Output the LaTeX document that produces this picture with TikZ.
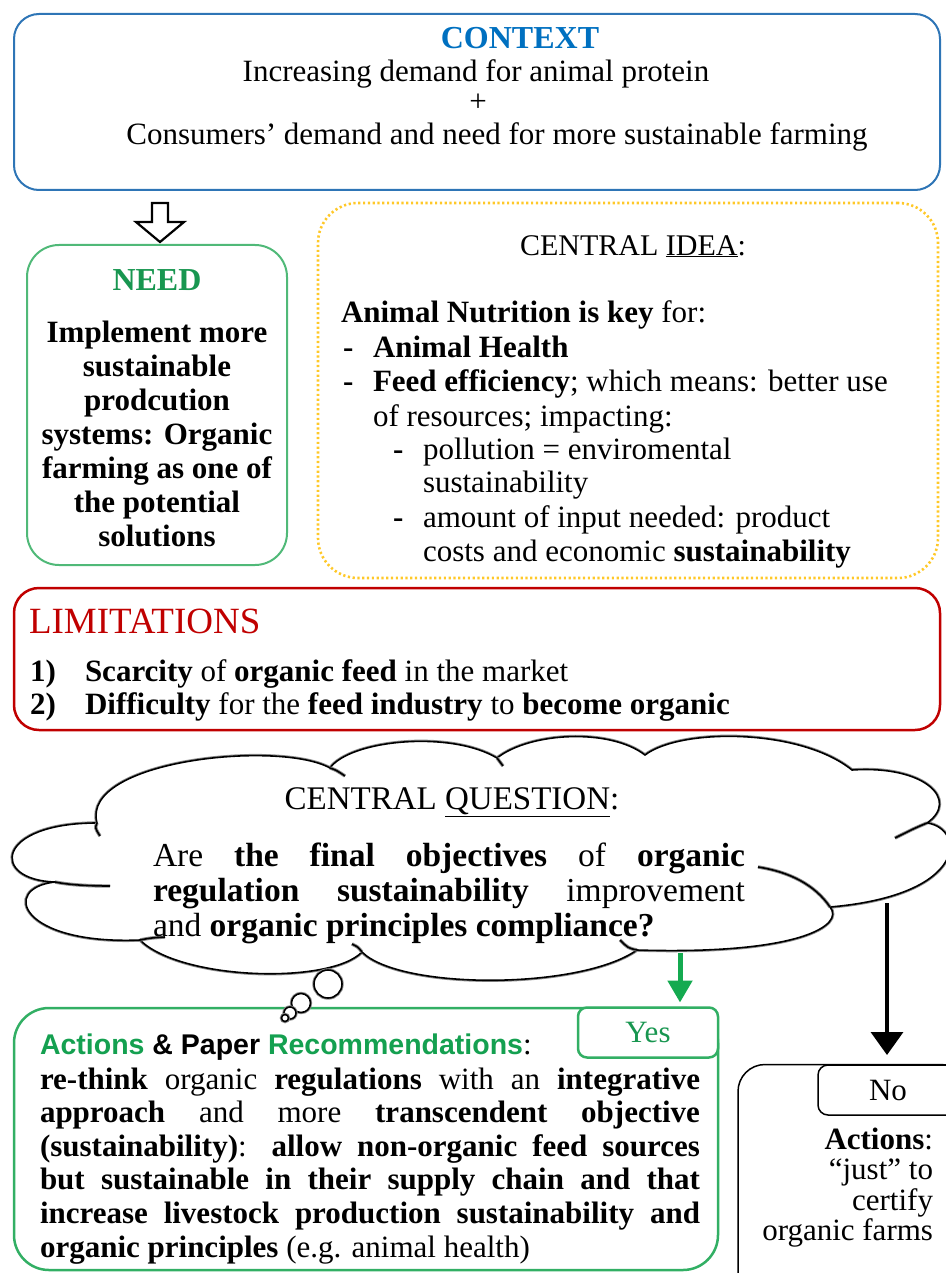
\documentclass[tikz,border=0pt]{standalone}
\usepackage{fontspec}
\setmainfont{Liberation Serif}
\setsansfont{Liberation Sans}
\usetikzlibrary{arrows.meta}

\definecolor{ctxblue}{RGB}{46,117,182}
\definecolor{ctxtitle}{RGB}{0,112,192}
\definecolor{needline}{RGB}{80,185,120}
\definecolor{needtext}{RGB}{24,150,80}
\definecolor{ideagold}{RGB}{255,200,40}
\definecolor{limred}{RGB}{192,0,0}
\definecolor{actgreen}{RGB}{50,175,100}
\definecolor{acttext}{RGB}{20,160,80}
\definecolor{arrowgreen}{RGB}{20,170,80}

\newcommand\fsBody{\fontsize{31}{34}\selectfont}
\newcommand\fsTitle[1]{\fontsize{#1}{#1}\selectfont}
\newcommand\jline[1]{\makebox[\linewidth][s]{#1}}

\begin{document}
\begin{tikzpicture}[x=1pt,y=-1pt,
  txt/.style={inner sep=0pt, outer sep=0pt, font=\fsBody},
  panel/.style={rectangle, inner sep=0pt, outer sep=0pt},
  cloudline/.style={draw=black, line width=1.6pt, preaction={draw=black!45, line width=3.4pt}},
]
\useasboundingbox (0,0) rectangle (945,1273);

% ---------- context ----------
\node[panel, draw=ctxblue, line width=2pt, rounded corners=25pt,
      minimum width=926pt, minimum height=176pt] (context) at (477,102) {};
\node[txt, anchor=base, font=\fsTitle{32}\bfseries, text=ctxtitle] (ctxtitle) at (520,49) {CONTEXT};
\node[txt, anchor=base] (ctx1) at (476,82) {Increasing demand for animal protein};
\node[txt, anchor=base] (ctx2) at (478,112) {+};
\node[txt, anchor=base] (ctx3) at (497,145) {Consumers’ demand and need for more sustainable farming};

% hollow block arrow from context to need
\draw[line width=2.2pt, fill=white, line join=miter]
  (152,203) -- (168,203) -- (168,222) -- (184,222) -- (160,242) -- (136,222) -- (152,222) -- cycle;

% ---------- need ----------
\node[panel, draw=needline, line width=2pt, rounded corners=32pt,
      minimum width=260pt, minimum height=320pt] (need) at (157,405) {};
\node[txt, anchor=base, font=\fsTitle{32}\bfseries, text=needtext] (needtitle) at (157,290) {NEED};
\node[txt, anchor=base] (needtxt) at (157,342) {\parbox[t]{258pt}{\centering\fsBody\bfseries
  Implement more\\sustainable\\prodcution\\systems: Organic\\farming as one of\\the potential\\solutions}};

% ---------- central idea ----------
\node[panel, draw=ideagold, line width=2.6pt, dash pattern=on 2.2pt off 2.6pt, rounded corners=40pt,
      minimum width=620pt, minimum height=375pt] (idea) at (628,390.5) {};
\node[txt, anchor=base, font=\fsTitle{30}] (ideatitle) at (633,255) {CENTRAL \underline{IDEA}:};
\node[txt, anchor=base west] (i1) at (341,322) {\textbf{Animal Nutrition is key} for:};
\node[txt, anchor=base west] (i2d) at (343,357) {\textbf{-}};
\node[txt, anchor=base west] (i2) at (373,357) {\textbf{Animal Health}};
\node[txt, anchor=base west] (i3d) at (343,391) {\textbf{-}};
\node[txt, anchor=base west] (i3) at (373,391) {\textbf{Feed efficiency}; which means: better use};
\node[txt, anchor=base west] (i4) at (373,426) {of resources; impacting:};
\node[txt, anchor=base west] (i5d) at (393,459) {\textbf{-}};
\node[txt, anchor=base west] (i5) at (423,459) {pollution = enviromental};
\node[txt, anchor=base west] (i6) at (423,492) {sustainability};
\node[txt, anchor=base west] (i7d) at (393,527) {\textbf{-}};
\node[txt, anchor=base west] (i7) at (423,527) {amount of input needed: product};
\node[txt, anchor=base west] (i8) at (423,561) {costs and economic \textbf{sustainability}};

% ---------- limitations ----------
\node[panel, draw=limred, line width=2.5pt, rounded corners=25pt,
      minimum width=926pt, minimum height=142pt] (limits) at (477,659) {};
\node[txt, anchor=base west, font=\fsTitle{37}, text=limred] (limtitle) at (29,633) {LIMITATIONS};
\node[txt, anchor=base west] (l1n) at (30,681) {\textbf{1)}};
\node[txt, anchor=base west] (l1) at (85,681) {\textbf{Scarcity} of \textbf{organic feed} in the market};
\node[txt, anchor=base west] (l2n) at (30,714) {\textbf{2)}};
\node[txt, anchor=base west] (l2) at (85,714) {\textbf{Difficulty} for the \textbf{feed industry} to \textbf{become organic}};

% ---------- central question cloud ----------
\path[fill=white, cloudline] (97,823)
  .. controls (80,760) and (280,740) .. (330,768)
  .. controls (350,740) and (450,730) .. (497,758)
  .. controls (530,732) and (610,728) .. (645,755)
  .. controls (680,728) and (800,728) .. (852,770)
  .. controls (925,765) and (960,800) .. (927,823)
  .. controls (965,828) and (970,895) .. (830,907)
  .. controls (845,925) and (800,955) .. (637,950)
  .. controls (580,990) and (400,990) .. (362,952)
  .. controls (330,985) and (180,980) .. (140,940)
  .. controls (20,945) and (0,888) .. (55,882)
  .. controls (-10,880) and (-5,823) .. (97,823) -- cycle;
% overlapping ends of the bumps
\draw[cloudline] (97,823) .. controls (95,828) .. (100,836);
\draw[cloudline] (55,882) .. controls (70,885) and (90,886) .. (110,886);
\draw[cloudline] (140,940) .. controls (150,938) .. (165,937);
\draw[cloudline] (330,768) .. controls (336,770) .. (345,776);
\draw[cloudline] (497,758) .. controls (500,762) .. (503,766);
\draw[cloudline] (927,823) .. controls (915,828) .. (895,838);
\draw[cloudline] (830,907) .. controls (815,885) and (790,872) .. (758,867);
\draw[cloudline] (637,950) .. controls (628,948) .. (620,940);
\draw[cloudline] (362,952) .. controls (358,947) .. (352,944);

\node[txt, anchor=base, font=\fsTitle{33}] (cqtitle) at (452,809) {CENTRAL \underline{QUESTION}:};
\node[txt, anchor=base west] (cqtext) at (153,866) {\parbox[t]{592pt}{\fontsize{33.5}{35}\selectfont
  \jline{Are \textbf{the final objectives} of \textbf{organic}}\\
  \jline{\textbf{regulation sustainability} improvement}\\
  and \textbf{organic principles compliance?}}};

\coordinate (qyes) at (680,953);
\coordinate (qno) at (887,903);

% ---------- yes branch ----------
\node[panel, draw=actgreen, line width=2.5pt, rounded corners=35pt,
      minimum width=704pt, minimum height=262pt] (actions) at (366,1139) {};
\node[panel, draw=actgreen, fill=white, line width=2.5pt, rounded corners=9pt,
      minimum width=140pt, minimum height=50pt, text=needtext, font=\fsBody] (yes) at (648,1032.5) {Yes};
\node[txt, anchor=base west, font=\fontsize{28.5}{34}\selectfont\sffamily\bfseries] (acthead) at (40,1054)
  {\textcolor{acttext}{Actions} \& Paper \textcolor{acttext}{Recommendations}{\rmfamily\mdseries\fontsize{31}{34}\selectfont :}};
\node[txt, anchor=base west] (actbody) at (40,1089) {\parbox[t]{660pt}{\fontsize{31}{33.6}\selectfont
  \jline{\textbf{re-think} organic \textbf{regulations} with an \textbf{integrative}}\\
  \jline{\textbf{approach} and more \textbf{transcendent objective}}\\
  \jline{\textbf{(sustainability)}: \textbf{allow non-organic feed sources}}\\
  \jline{\textbf{but sustainable in their supply chain and that}}\\
  \jline{\textbf{increase livestock production sustainability and}}\\
  \textbf{organic principles} (e.g. animal health)}};

% ---------- no branch ----------
\node[panel, draw=black, line width=1.5pt, rounded corners=27pt,
      minimum width=230pt, minimum height=235pt] (nobox) at (853,1182) {};
\node[panel, draw=black, fill=white, line width=1.5pt, rounded corners=10pt,
      minimum width=140pt, minimum height=50pt, font=\fsBody] (notab) at (888,1090) {No};
\node[txt, anchor=base east] (notext) at (933,1149) {\parbox[t]{190pt}{\raggedleft\fontsize{31}{30.5}\selectfont
  \textbf{Actions}:\\“just” to\\certify\\organic farms}};

% ---------- connectors ----------
\draw[arrowgreen, line width=5pt, -{Triangle[width=24pt,length=22pt]}, shorten >=5pt] (qyes) -- (qyes |- yes.north);
\draw[black, line width=3.5pt, -{Triangle[width=32pt,length=23pt]}, shorten >=10pt] (qno) -- (qno |- notab.north);

% thought bubbles
\foreach \cx/\cy/\r in {328/984/14, 301/1003/9.5, 290/1013/6, 285/1018/3.5}
  \path[fill=white, cloudline] (\cx,\cy) circle[radius=\r];
\end{tikzpicture}
\end{document}
